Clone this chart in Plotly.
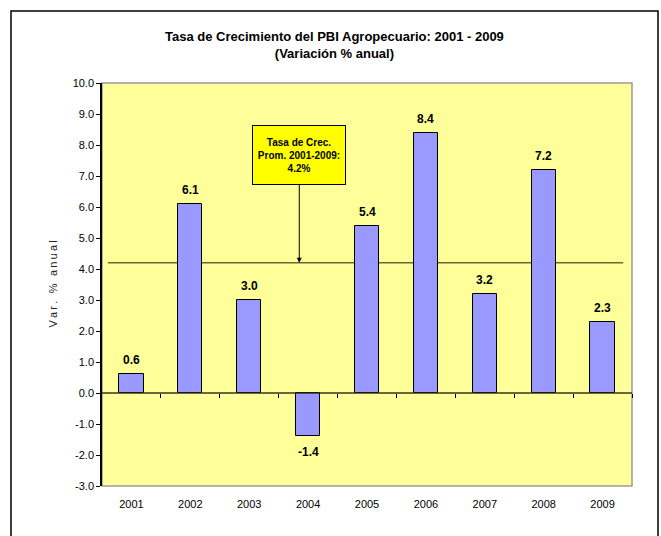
import plotly.graph_objects as go

years = ["2001", "2002", "2003", "2004", "2005", "2006", "2007", "2008", "2009"]
growth = [0.6, 6.1, 3.0, -1.4, 5.4, 8.4, 3.2, 7.2, 2.3]
avg_growth = 4.2
avg_label = "Tasa de Crec.<br>Prom. 2001-2009:<br>4.2%"
y_ticks = [-3, -2, -1, 0, 1, 2, 3, 4, 5, 6, 7, 8, 9, 10]

W, H = 661, 536
L, R, T, B = 102, 29, 83, 50
pw, ph = W - L - R, H - T - B

def px_x(p):
    return (p - L) / pw

def px_y(p):
    return (H - B - p) / ph

FONT = "Liberation Sans, Arial, sans-serif"

fig = go.Figure()
fig.add_trace(go.Bar(
    x=list(range(len(years))), y=growth, width=0.41,
    marker=dict(color="#9999FF", line=dict(color="black", width=1)),
    hoverinfo="skip", showlegend=False,
))

# average line
fig.add_shape(type="line", xref="x", yref="y", x0=-0.4, x1=8.35,
              y0=avg_growth, y1=avg_growth,
              line=dict(color="rgba(40,40,20,0.7)", width=1.5), layer="below")

# plot area border (grey)
fig.add_shape(type="rect", xref="paper", yref="paper", x0=0, x1=1, y0=0, y1=1,
              line=dict(color="#9a9a9a", width=1.5), layer="below")

# outer chart border
fig.add_shape(type="rect", xref="paper", yref="paper",
              x0=px_x(11), x1=px_x(658), y0=px_y(545), y1=px_y(11),
              line=dict(color="black", width=1.5))

annotations = []
for i, v in enumerate(growth):
    annotations.append(dict(
        x=i, y=v, xref="x", yref="y", text=f"<b>{v:.1f}</b>", showarrow=False,
        yanchor="bottom" if v >= 0 else "top", yshift=5 if v >= 0 else -7,
        font=dict(family=FONT, size=12, color="black"),
    ))

annotations.append(dict(
    x=2.85, y=avg_growth, xref="x", yref="y", text=f"<b>{avg_label}</b>",
    showarrow=True, ax=0, ay=-108, arrowhead=2, arrowsize=1, arrowwidth=1,
    arrowcolor="black", bgcolor="#FFFF00", bordercolor="black", borderwidth=1,
    borderpad=4, width=84, height=50, align="center",
    font=dict(family=FONT, size=10, color="black"),
))

annotations.append(dict(
    x=px_x(44), y=0.5, xref="paper", yref="paper", textangle=-90,
    text="\u2009".join("Var. % anual"), showarrow=False,
    font=dict(family=FONT, size=11, color="#222222"),
))

annotations.append(dict(
    x=px_x(334), y=px_y(45), xref="paper", yref="paper",
    text="<b>Tasa de Crecimiento del PBI Agropecuario: 2001 - 2009</b><br><b>(Variación % anual)</b>",
    showarrow=False, font=dict(family=FONT, size=13, color="black"),
    xanchor="center", yanchor="middle",
))

fig.update_layout(
    width=W, height=H,
    margin=dict(l=L, r=R, t=T, b=B, pad=0),
    paper_bgcolor="white", plot_bgcolor="#FFFF99",
    annotations=annotations,
    bargap=0,
    xaxis=dict(
        range=[-0.5, 8.5], tickmode="array", tickvals=list(range(len(years))),
        ticktext=years, showgrid=False, zeroline=False, showline=False,
        ticks="outside", ticklen=8, tickcolor="rgba(0,0,0,0)",
        tickfont=dict(family=FONT, size=11, color="black"), fixedrange=True,
    ),
    xaxis2=dict(
        range=[-0.5, 8.5], overlaying="x", anchor="free",
        position=(0 - y_ticks[0]) / (y_ticks[-1] - y_ticks[0]),
        tickmode="array", tickvals=[i + 0.5 for i in range(len(years))],
        showticklabels=False, ticks="outside", ticklen=4, tickcolor="black",
        showline=True, linecolor="rgba(40,40,20,0.7)", linewidth=1.5,
        showgrid=False, zeroline=False, side="bottom",
    ),
    yaxis=dict(
        range=[y_ticks[0], y_ticks[-1]], tickmode="array", tickvals=y_ticks,
        ticktext=[f"{t:.1f}" for t in y_ticks], showgrid=False, zeroline=False,
        showline=True, linecolor="black", linewidth=1.5, ticks="outside",
        ticklen=4, tickcolor="black",
        tickfont=dict(family=FONT, size=11, color="black"), fixedrange=True,
    ),
)

# invisible trace to activate xaxis2
fig.add_trace(go.Scatter(x=[0], y=[0], xaxis="x2", yaxis="y", mode="markers",
                         marker=dict(opacity=0), hoverinfo="skip", showlegend=False))

fig.write_html("out.html", config={"displayModeBar": False},
               post_script="document.body.style.margin='0';")
